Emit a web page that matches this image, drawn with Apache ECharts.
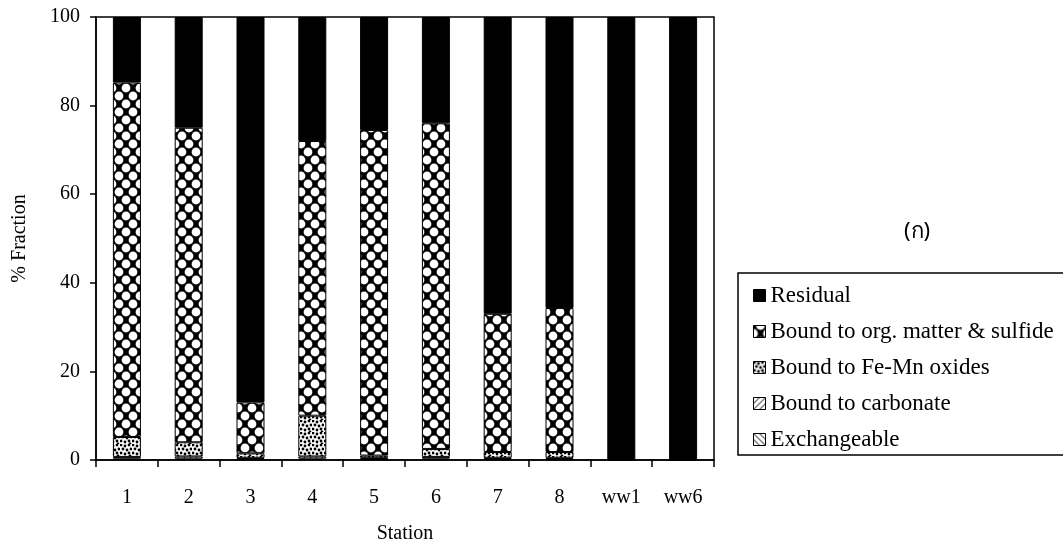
<!DOCTYPE html>
<html>
<head>
<meta charset="utf-8">
<script src="https://cdn.jsdelivr.net/npm/echarts@6/dist/echarts.min.js"></script>
<style>
html,body{margin:0;padding:0;background:#fff;}
#c{width:1063px;height:549px;}
</style>
</head>
<body>
<div id="c"></div>
<script>
var categories = ['1','2','3','4','5','6','7','8','ww1','ww6'];
var exchangeable = [0.3,0.3,0.2,0.3,0.2,0.3,0.2,0.2,0,0];
var carbonate    = [0.4,0.5,0.3,0.5,0.3,0.4,0.3,0.3,0,0];
var feMnOxides   = [4.5,3.2,1.0,9.2,0.5,1.8,1.3,1.3,0,0];
var orgSulfide   = [80,71,11.5,62,73.5,73.5,31.2,32.5,0,0];
var residual     = [14.8,25,87,28,25.5,24,67,65.7,100,100];
var yTicks = [0,20,40,60,80,100];

function tile(w,h,draw){
  var c=document.createElement('canvas');c.width=w;c.height=h;
  var g=c.getContext('2d');g.fillStyle='#fff';g.fillRect(0,0,w,h);g.fillStyle='#000';g.strokeStyle='#000';
  draw(g,w,h);return c;
}
function diamond(g,cx,cy,rx,ry){g.beginPath();g.moveTo(cx,cy-ry);g.lineTo(cx+rx,cy);g.lineTo(cx,cy+ry);g.lineTo(cx-rx,cy);g.closePath();g.fill();}
var checker = tile(14,16,function(g,w,h){
  g.fillStyle='#000';
  [[0,0],[14,0],[0,16],[14,16],[7,8]].forEach(function(p){diamond(g,p[0],p[1],7,8);});
  g.fillStyle='#fff';
  [[7,0],[0,8],[14,8],[7,16]].forEach(function(p){g.beginPath();g.arc(p[0],p[1],4.4,0,Math.PI*2);g.fill();});
});
var dots = tile(12,12,function(g){
  var pts=[[1,1],[5,2],[9,1],[3,5],[7,6],[11,5],[1,9],[5,10],[9,9],[10,12]];
  pts.forEach(function(p){g.beginPath();g.arc(p[0],p[1],1.4,0,Math.PI*2);g.fill();});
});
var hatch = tile(6,6,function(g){g.lineWidth=1;g.beginPath();g.moveTo(0,6);g.lineTo(6,0);g.stroke();});
var hatch2 = tile(6,6,function(g){g.lineWidth=1;g.beginPath();g.moveTo(0,0);g.lineTo(6,6);g.stroke();});

var names = ['Exchangeable','Bound to carbonate','Bound to Fe-Mn oxides','Bound to org. matter & sulfide','Residual'];
var datas = [exchangeable,carbonate,feMnOxides,orgSulfide,residual];
var fills = [{image:hatch2,repeat:'repeat'},{image:hatch,repeat:'repeat'},{image:dots,repeat:'repeat'},{image:checker,repeat:'repeat'},'#000'];

var serif = '"Liberation Serif","Times New Roman",serif';
var chart = echarts.init(document.getElementById('c'));
chart.setOption({
  animation:false,
  backgroundColor:'#fff',
  grid:{left:96,right:349,top:17,bottom:83,show:true,borderColor:'#000',borderWidth:1.5,backgroundColor:'transparent'},
  xAxis:{type:'category',data:categories,
    axisLine:{lineStyle:{color:'#000',width:1.5}},
    axisTick:{show:true,length:7,inside:false,lineStyle:{color:'#000',width:1.5}},
    axisLabel:{color:'#000',fontFamily:serif,fontSize:20,margin:28},
    name:'Station',nameLocation:'middle',nameGap:64,nameTextStyle:{color:'#000',fontFamily:serif,fontSize:20}},
  yAxis:{type:'value',min:0,max:100,interval:20,
    axisLine:{show:true,lineStyle:{color:'#000',width:1.5}},
    axisTick:{show:true,length:6,lineStyle:{color:'#000',width:1.5}},
    splitLine:{show:false},
    axisLabel:{color:'#000',fontFamily:serif,fontSize:20,margin:16,formatter:function(v){return yTicks.indexOf(v)>=0?String(v):'';}},
    name:'% Fraction',nameLocation:'middle',nameGap:66,nameRotate:90,nameTextStyle:{color:'#000',fontFamily:serif,fontSize:20}},
  legend:{orient:'vertical',left:748,top:279,itemWidth:12,itemHeight:12,itemGap:13,icon:'rect',
    data:['Residual','Bound to org. matter & sulfide','Bound to Fe-Mn oxides','Bound to carbonate','Exchangeable'],
    textStyle:{color:'#000',fontFamily:serif,fontSize:23},
    itemStyle:{borderColor:'#000',borderWidth:1}},
  graphic:[
    {type:'rect',shape:{x:738,y:273,width:340,height:182},style:{fill:'none',stroke:'#000',lineWidth:1.5},z:-1},
    {type:'text',left:904,top:221,style:{text:'(ก)',fontSize:22,fontFamily:'"Noto Sans","DejaVu Sans",sans-serif',fill:'#000'}}
  ],
  series: names.map(function(n,i){
    return {name:n,type:'bar',stack:'all',data:datas[i],barWidth:28,
      itemStyle:{color:fills[i],borderColor:'#000',borderWidth:1}};
  })
});
</script>
</body>
</html>
